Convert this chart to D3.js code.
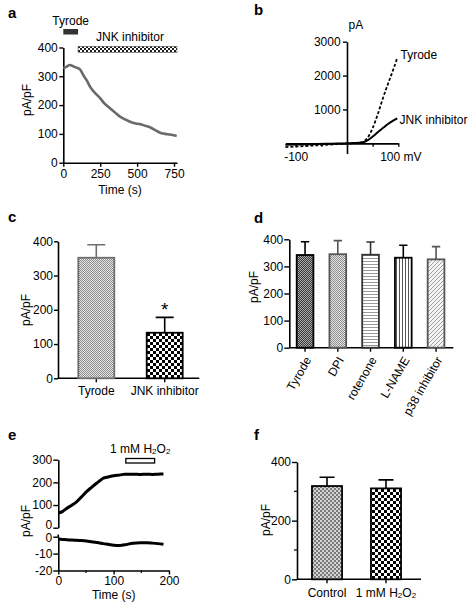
<!DOCTYPE html>
<html><head><meta charset="utf-8">
<script src="https://cdn.jsdelivr.net/npm/d3@7"></script>
<style>
html,body{margin:0;padding:0;background:#fff;}
svg{display:block;}
text{font-family:'Liberation Sans',Arial,Helvetica,sans-serif;fill:#000;}
</style></head><body>
<svg id="fig" width="473" height="607"></svg>
<script>
// ---------------- data ----------------
// panel a: time course
const aTime    = [0,20,45,70,90,113,140,160,181,210,249,280,316,350,384,420,452,490,520,555,587,620,655,690,723,750,768];
const aCurrent = [328,333,339,334,330,324,300,285,264,245,224,205,189,174,160,150,142,136,134,128,123,114,104,100,98,95,93];
const aTreatments = ["Tyrode","JNK inhibitor"];
const aTreatStart = [0,100];
const aTreatEnd   = [100,770];
const aYTicks = [0,100,200,300,400];
const aXTicks = [0,250,500,750];

// panel b: I-V curves
const bVoltage = [-120,-100,-80,-60,-40,-20,0,10,20,30,40,50,60,70,80,90,98];
const bTyrode  = [-110,-95,-78,-60,-42,-22,0,5,15,40,160,450,860,1330,1760,2170,2520];
const bJNK     = [-45,-38,-30,-23,-15,-8,0,5,12,28,90,200,330,450,570,670,740];
const bYTicks = [1000,2000,3000];
const bXTicks = [-100,-50,50,100];

// panel c
const cCategories = ["Tyrode","JNK inhibitor"];
const cMeans  = [352,133];
const cErrors = [38,45];
const cYTicks = [0,100,200,300,400];

// panel d
const dCategories = ["Tyrode","DPI","rotenone","L-NAME","p38 inhibitor"];
const dMeans  = [342,345,343,332,326];
const dErrors = [49,50,47,46,47];
const dYTicks = [0,100,200,300,400];

// panel e
const eTime  = [0,8,15,25,33,42,51,60,69,75,81,90,100,112,120,135,148,160,170,180,190];
const eUpper = [64,72,85,100,114,136,159,178,196,207,218,224,229,233,236,236,235,236,235,236,237];
const eLower = [-1.4,-1.6,-1.8,-2,-2.1,-2.3,-2.6,-3,-3.4,-3.7,-4.1,-4.5,-5,-5.2,-4.8,-3.9,-3.6,-3.6,-3.8,-4.1,-4.5];
const eUpperTicks = [0,100,200,300];
const eLowerTicks = [-20,-10,0];
const eXTicks = [0,100,200];
const eXMinor = [50,150];
const eTreatStart = 122, eTreatEnd = 174;

// panel f
const fCategories = ["Control","1 mM H2O2"];
const fMeans  = [318,310];
const fErrors = [30,29];
const fYTicks = [0,200,400];
const fYMinor = [100,300];

// ---------------- drawing ----------------
const FONT = "'Liberation Sans',Arial,Helvetica,sans-serif";
const fmt = d => String(d);
const svg = d3.select("#fig");
const defs = svg.append("defs");

function checker(id, size, bg, fg){
  const p = defs.append("pattern").attr("id",id).attr("patternUnits","userSpaceOnUse")
    .attr("width",size*2).attr("height",size*2);
  p.append("rect").attr("width",size*2).attr("height",size*2).attr("fill",bg);
  p.append("rect").attr("width",size).attr("height",size).attr("fill",fg);
  p.append("rect").attr("x",size).attr("y",size).attr("width",size).attr("height",size).attr("fill",fg);
}
checker("chkLight",1,"#e6e6e6","#8c8c8c");
checker("chkDark",1,"#3c3c3c","#a8a8a8");
checker("chkMid",2,"#7a7a7a","#d4d4d4");
checker("chkCoarse",3,"#ffffff","#000000");
checker("chkSmall",2,"#ffffff","#1a1a1a");
(function(){
  const h = defs.append("pattern").attr("id","hLines").attr("patternUnits","userSpaceOnUse").attr("width",4).attr("height",3);
  h.append("rect").attr("width",4).attr("height",3).attr("fill","#fff");
  h.append("rect").attr("width",4).attr("height",1).attr("fill","#9a9a9a");
  const v = defs.append("pattern").attr("id","vLines").attr("patternUnits","userSpaceOnUse").attr("width",3).attr("height",4);
  v.append("rect").attr("width",3).attr("height",4).attr("fill","#fff");
  v.append("rect").attr("width",1).attr("height",4).attr("fill","#555");
  const dg = defs.append("pattern").attr("id","diag").attr("patternUnits","userSpaceOnUse").attr("width",4).attr("height",4);
  dg.append("rect").attr("width",4).attr("height",4).attr("fill","#f4f4f4");
  dg.append("path").attr("d","M-1,1L1,-1M0,4L4,0M3,5L5,3").attr("stroke","#a0a0a0").attr("stroke-width",1);
})();

function styleAxis(g){
  g.attr("font-family",FONT).attr("font-size",12);
  g.selectAll("path.domain").attr("stroke","#000").attr("stroke-width",1.6);
  g.selectAll(".tick line").attr("stroke","#000").attr("stroke-width",1.4);
  g.selectAll(".tick text").attr("fill","#000");
  return g;
}
function panelLabel(t,x,y){
  svg.append("text").attr("x",x).attr("y",y).attr("font-size",15).attr("font-weight","bold").text(t);
}
function yLabel(t,x,y){
  svg.append("text").attr("transform",`translate(${x},${y}) rotate(-90)`).attr("text-anchor","middle")
    .attr("font-size",12).text(t);
}
function h2o2(sel, prefix){
  sel.text(null);
  sel.append("tspan").text(prefix+"H");
  sel.append("tspan").attr("font-size",8).attr("dy",1.5).text("2");
  sel.append("tspan").attr("dy",-1.5).text("O");
  sel.append("tspan").attr("font-size",8).attr("dy",1.5).text("2");
}

// ===== panel a =====
{
  const g = svg.append("g");
  const x = d3.scaleLinear().domain([0,770]).range([63.3,177]);
  const y = d3.scaleLinear().domain([0,400]).range([162.7,47.5]);
  styleAxis(g.append("g").attr("transform","translate(63.3,0)")
    .call(d3.axisLeft(y).tickValues(aYTicks).tickFormat(fmt).tickSize(4).tickSizeOuter(0).tickPadding(1.5)));
  styleAxis(g.append("g").attr("transform","translate(0,162.7)")
    .call(d3.axisBottom(x).tickValues(aXTicks).tickFormat(fmt).tickSize(4).tickSizeOuter(0).tickPadding(2.6)));
  g.append("path").datum(aTime.map((t,i)=>[t,aCurrent[i]]))
    .attr("fill","none").attr("stroke","#6a6a6a").attr("stroke-width",2.6)
    .attr("d",d3.line().x(d=>x(d[0])).y(d=>y(d[1])).curve(d3.curveMonotoneX));
  const barY = [29,46.3], barH = [5.5,6], txtY = [25,40.7], fills = ["#333","url(#chkSmall)"];
  aTreatments.forEach((name,i)=>{
    g.append("rect").attr("x",x(aTreatStart[i])).attr("y",barY[i])
      .attr("width",x(aTreatEnd[i])-x(aTreatStart[i])).attr("height",barH[i])
      .attr("fill",fills[i]).attr("stroke",i? "#555":"none").attr("stroke-width",0.6);
    g.append("text").attr("x",i? 130 : (x(aTreatStart[i])+x(aTreatEnd[i]))/2).attr("y",txtY[i])
      .attr("text-anchor","middle").attr("font-size",12).text(name);
  });
  g.append("text").attr("x",120).attr("y",194).attr("text-anchor","middle").attr("font-size",12).text("Time (s)");
  yLabel("pA/pF",31,100);
  panelLabel("a",8,18);
}

// ===== panel b =====
{
  const g = svg.append("g");
  const x = d3.scaleLinear().domain([-120,100]).range([285.4,398.3]);
  const y = d3.scaleLinear().domain([-300,3000]).range([153.5,41.7]);
  styleAxis(g.append("g").attr("transform",`translate(${x(0)},0)`)
    .call(d3.axisLeft(y).tickValues(bYTicks).tickFormat(fmt).tickSize(4).tickSizeOuter(0).tickPadding(2.4)));
  const xa = styleAxis(g.append("g").attr("transform",`translate(0,${y(0)})`)
    .call(d3.axisBottom(x).tickValues(bXTicks).tickSize(3.5).tickSizeOuter(0).tickPadding(6)
      .tickFormat(d=> d===-100 ? "-100" : d===100 ? "100 mV" : "")));
  xa.selectAll(".tick text").attr("dx",d=> d===100 ? 2 : 0);
  const line = d3.line().x(d=>x(d[0])).y(d=>y(d[1])).curve(d3.curveMonotoneX);
  g.append("path").datum(bVoltage.map((v,i)=>[v,bTyrode[i]]))
    .attr("fill","none").attr("stroke","#000").attr("stroke-width",1.8).attr("stroke-dasharray","3,2").attr("d",line);
  g.append("path").datum(bVoltage.map((v,i)=>[v,bJNK[i]]))
    .attr("fill","none").attr("stroke","#000").attr("stroke-width",2).attr("d",line);
  g.append("text").attr("x",348.5).attr("y",29).attr("font-size",12).text("pA");
  g.append("text").attr("x",400.5).attr("y",59).attr("font-size",12).text("Tyrode");
  g.append("text").attr("x",399.5).attr("y",123.5).attr("font-size",12).text("JNK inhibitor");
  panelLabel("b",254,15);
}

// generic bar panel
function barPanel(opt){
  const g = svg.append("g");
  const x = d3.scaleBand().domain(opt.cats).range(opt.xRange).paddingInner(opt.pi).paddingOuter(opt.po);
  const y = d3.scaleLinear().domain([0,400]).range(opt.yRange);
  const ax = d3.axisLeft(y).tickValues(opt.yTicks).tickFormat(fmt).tickSize(opt.tick||4).tickSizeOuter(0).tickPadding(1);
  styleAxis(g.append("g").attr("transform",`translate(${opt.xRange[0]},0)`).call(ax));
  if (opt.yMinor){
    g.append("g").selectAll("line").data(opt.yMinor).join("line")
      .attr("x1",opt.xRange[0]-3).attr("x2",opt.xRange[0]).attr("y1",d=>y(d)).attr("y2",d=>y(d))
      .attr("stroke","#000").attr("stroke-width",1.2);
  }
  const xg = styleAxis(g.append("g").attr("transform",`translate(0,${y(0)})`)
    .call(d3.axisBottom(x).tickSize(4).tickSizeOuter(0).tickPadding(opt.xPad)));
  xg.select("path.domain").remove();
  g.append("line").attr("x1",opt.xRange[0]).attr("x2",opt.axisEnd).attr("y1",y(0)).attr("y2",y(0))
    .attr("stroke","#000").attr("stroke-width",1.6);
  const bw = x.bandwidth();
  g.selectAll("path.err").data(opt.cats).join("path").attr("class","err")
    .attr("d",(d,i)=>{const cx=x(d)+bw/2, yt=y(opt.means[i]), ye=y(opt.means[i]+opt.errs[i]);
      return `M${cx},${yt}V${ye}M${cx-bw/4},${ye}H${cx+bw/4}`;})
    .attr("fill","none").attr("stroke",(d,i)=>opt.strokes[i]).attr("stroke-width",1.6);
  g.selectAll("rect.bar").data(opt.cats).join("rect").attr("class","bar")
    .attr("x",d=>x(d)).attr("width",bw)
    .attr("y",(d,i)=>y(opt.means[i])).attr("height",(d,i)=>y(0)-y(opt.means[i]))
    .attr("fill",(d,i)=>opt.fills[i]).attr("stroke",(d,i)=>opt.strokes[i]).attr("stroke-width",1.8);
  return {g,x,y,xg,bw};
}

// ===== panel c =====
{
  const r = barPanel({cats:cCategories, means:cMeans, errs:cErrors, xRange:[58,203], pi:0.474, po:0.297,
    yRange:[378.3,241.3], yTicks:cYTicks, xPad:4.4, axisEnd:199.3,
    fills:["url(#chkLight)","url(#chkCoarse)"], strokes:["#6e6e6e","#000"]});
  const cx = r.x(cCategories[1]) + r.bw/2;
  r.g.append("text").attr("x",cx).attr("y",316).attr("text-anchor","middle").attr("font-size",19).text("*");
  yLabel("pA/pF",29.5,310);
  panelLabel("c",8,222);
}

// ===== panel d =====
{
  const r = barPanel({cats:dCategories, means:dMeans, errs:dErrors, xRange:[289.3,451.8], pi:0.49, po:0.226,
    yRange:[347.7,239.3], yTicks:dYTicks, xPad:3, axisEnd:453.3, tick:5,
    fills:["url(#chkDark)","url(#chkLight)","url(#hLines)","url(#vLines)","url(#diag)"],
    strokes:["#000","#555","#333","#000","#555"]});
  r.xg.selectAll(".tick text").attr("x",0).attr("y",0).attr("dy","0.35em")
    .attr("text-anchor","end").attr("transform","translate(3,10) rotate(-60)");
  yLabel("pA/pF",258,287);
  panelLabel("d",254,223);
}

// ===== panel e =====
{
  const g = svg.append("g");
  const x = d3.scaleLinear().domain([0,200]).range([58.3,169]);
  const yU = d3.scaleLinear().domain([0,300]).range([527.7,459.7]);
  const yL = d3.scaleLinear().domain([-20,0]).range([570.5,536.7]);
  const ua = styleAxis(g.append("g").attr("transform","translate(58.3,0)")
    .call(d3.axisLeft(yU).tickValues(eUpperTicks).tickFormat(fmt).tickSize(5).tickSizeOuter(0).tickPadding(1)));
  ua.selectAll(".tick text").filter(d=>d===0).attr("dy","0.1em");
  const la = styleAxis(g.append("g").attr("transform","translate(58.3,0)")
    .call(d3.axisLeft(yL).tickValues(eLowerTicks).tickFormat(fmt).tickSize(5).tickSizeOuter(0).tickPadding(1)));
  la.selectAll(".tick text").filter(d=>d===0).attr("dy","0.42em");
  g.append("line").attr("x1",58.3).attr("x2",58.3).attr("y1",534.5).attr("y2",537).attr("stroke","#000").attr("stroke-width",1.6);
  styleAxis(g.append("g").attr("transform","translate(0,570.5)")
    .call(d3.axisBottom(x).tickValues(eXTicks).tickFormat(fmt).tickSize(4).tickSizeOuter(0).tickPadding(2.3)));
  g.append("g").selectAll("line").data(eXMinor).join("line")
    .attr("x1",d=>x(d)).attr("x2",d=>x(d)).attr("y1",570.5).attr("y2",573).attr("stroke","#000").attr("stroke-width",1.2);
  const lu = d3.line().x((d,i)=>x(eTime[i])).y(d=>yU(d)).curve(d3.curveMonotoneX);
  const ll = d3.line().x((d,i)=>x(eTime[i])).y(d=>yL(d)).curve(d3.curveMonotoneX);
  g.append("path").datum(eUpper).attr("fill","none").attr("stroke","#000").attr("stroke-width",3).attr("d",lu);
  g.append("path").datum(eLower).attr("fill","none").attr("stroke","#000").attr("stroke-width",3).attr("d",ll);
  g.append("rect").attr("x",x(eTreatStart)).attr("y",458.5).attr("width",x(eTreatEnd)-x(eTreatStart)).attr("height",4.5)
    .attr("fill","#fff").attr("stroke","#000").attr("stroke-width",1.3);
  const t = g.append("text").attr("x",(x(eTreatStart)+x(eTreatEnd))/2).attr("y",452.5).attr("text-anchor","middle").attr("font-size",12);
  h2o2(t,"1 mM ");
  g.append("text").attr("x",113.7).attr("y",599).attr("text-anchor","middle").attr("font-size",12).text("Time (s)");
  yLabel("pA/pF",29.5,521);
  panelLabel("e",8,440);
}

// ===== panel f =====
{
  const r = barPanel({cats:fCategories, means:fMeans, errs:fErrors, xRange:[297,416], pi:0.49, po:0.254,
    yRange:[579.3,462], yTicks:fYTicks, yMinor:fYMinor, xPad:5, axisEnd:421, tick:5,
    fills:["url(#chkMid)","url(#chkCoarse)"], strokes:["#000","#000"]});
  r.xg.selectAll(".tick text").filter(d=>d==="1 mM H2O2").each(function(){ h2o2(d3.select(this),"1 mM "); });
  yLabel("pA/pF",269.5,520);
  panelLabel("f",254,440);
}
</script>
</body></html>
